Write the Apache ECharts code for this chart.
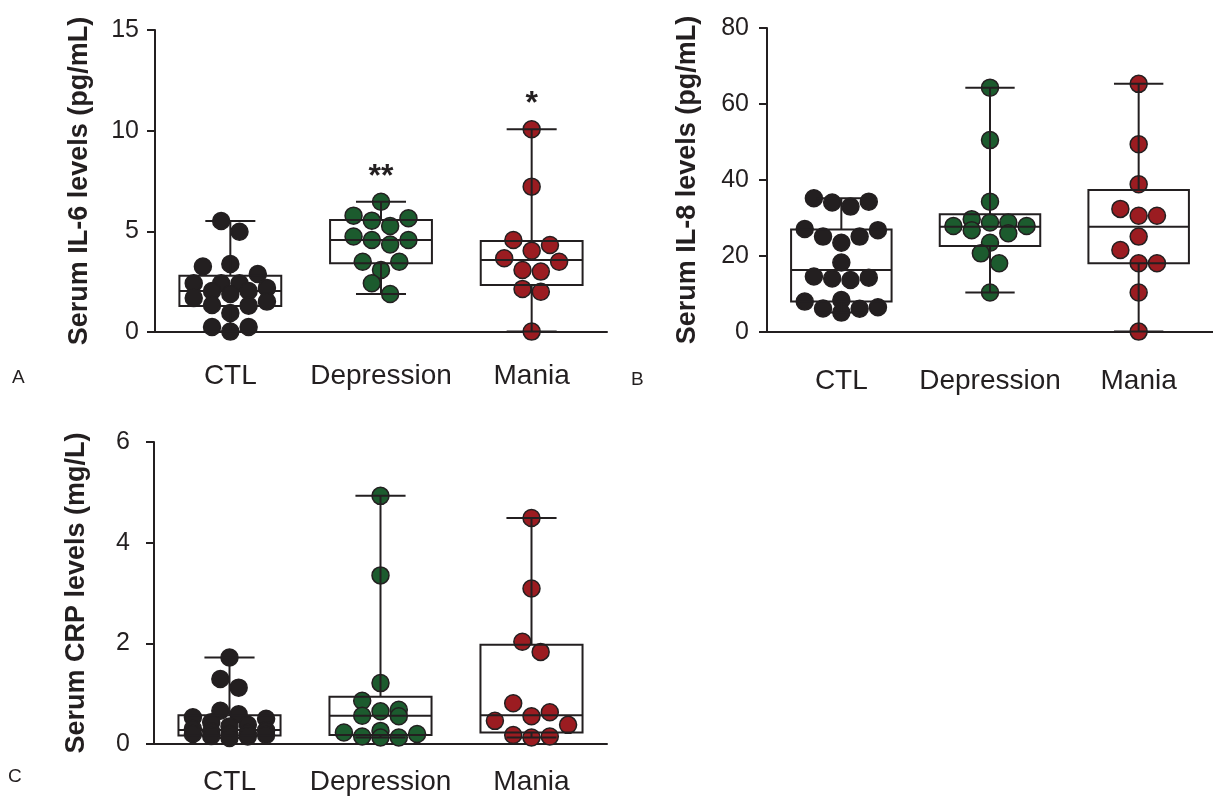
<!DOCTYPE html>
<html style="height: 100%">
<head>
    <meta charset="utf-8">
    <title>Serum IL-6 / IL-8 / CRP</title>
    <script type="text/javascript" src="https://cdn.jsdelivr.net/npm/echarts@6/dist/echarts.min.js"></script>
</head>
<body style="height: 100%; margin: 0; background: #fff">
    <div id="container" style="width: 1213px; height: 796px"></div>
    <script type="text/javascript">
        var groups = ['CTL', 'Depression', 'Mania'];
        var groupColors = ['#231f20', '#1c5b2e', '#9b1c21'];

        // IL-6 (pg/mL)
        var il6Ctl = [5.51, 4.98, 3.38, 3.25, 2.88, 2.42, 2.42, 2.42, 2.19, 2.04, 2.04, 1.89, 1.69, 1.51, 1.34, 1.31, 0.94, 0.25, 0.25, 0.02];
        var il6Dep = [6.47, 5.78, 5.65, 5.53, 5.27, 4.74, 4.57, 4.57, 4.35, 3.49, 3.49, 3.08, 2.42, 1.89];
        var il6Man = [10.07, 7.22, 4.57, 4.32, 4.04, 3.66, 3.49, 3.08, 3.0, 2.14, 2.0, 0.02];
        // [min, Q1, median, Q3, max]
        var il6Box = [[0.02, 1.29, 2.04, 2.80, 5.51], [1.89, 3.41, 4.57, 5.56, 6.47], [0.02, 2.33, 3.58, 4.52, 10.07]];
        var il6Sig = ['', '**', '*'];

        // IL-8 (pg/mL)
        var il8Ctl = [35.2, 34.3, 34.1, 33.0, 27.1, 26.8, 25.1, 25.1, 23.5, 18.3, 14.6, 14.3, 14.1, 13.7, 8.4, 8.0, 6.5, 6.2, 6.1, 5.1];
        var il8Dep = [64.3, 50.5, 34.3, 29.7, 28.8, 28.8, 27.9, 27.9, 26.8, 26.0, 23.5, 20.7, 18.1, 10.4];
        var il8Man = [65.3, 49.4, 38.9, 32.4, 30.6, 30.6, 25.1, 21.6, 18.1, 18.1, 10.4, 0.1];
        var il8Box = [[5.1, 8.0, 16.3, 27.0, 35.2], [10.4, 22.6, 27.7, 31.0, 64.3], [0.1, 18.1, 27.7, 37.4, 65.3]];

        // CRP (mg/L)
        var crpCtl = [1.72, 1.29, 1.12, 0.66, 0.59, 0.53, 0.50, 0.43, 0.38, 0.35, 0.30, 0.27, 0.25, 0.22, 0.20, 0.20, 0.18, 0.16, 0.15, 0.12];
        var crpDep = [4.93, 3.35, 1.21, 0.86, 0.68, 0.65, 0.56, 0.55, 0.26, 0.23, 0.20, 0.15, 0.13, 0.13];
        var crpMan = [4.49, 3.09, 2.03, 1.83, 0.81, 0.63, 0.55, 0.46, 0.38, 0.18, 0.15, 0.13];
        var crpBox = [[0.12, 0.17, 0.28, 0.57, 1.72], [0.13, 0.18, 0.56, 0.94, 4.93], [0.13, 0.23, 0.57, 1.97, 4.49]];

        var INK = '#231f20';
        var FONT = '"Liberation Sans", Arial, sans-serif';
        var DOT = 17;      // dot diameter
        var STEP = 18.3;   // horizontal spacing of dots in a row

        var panels = [
            { letter: 'A', name: 'Serum IL-6 levels (pg/mL)', max: 15, interval: 5, data: [il6Ctl, il6Dep, il6Man], box: il6Box, sig: il6Sig,
              grid: { left: 155, top: 30, width: 452, height: 302 }, labelMargin: 30, tickMargin: 16, nameGap: 62,
              letterPos: [12, 368] },
            { letter: 'B', name: 'Serum IL-8 levels (pg/mL)', max: 80, interval: 20, data: [il8Ctl, il8Dep, il8Man], box: il8Box, sig: [],
              grid: { left: 767, top: 28, width: 457, height: 304 }, labelMargin: 35, tickMargin: 18, nameGap: 66,
              letterPos: [631, 370] },
            { letter: 'C', name: 'Serum CRP levels (mg/L)', max: 6, interval: 2, data: [crpCtl, crpDep, crpMan], box: crpBox, sig: [],
              grid: { left: 154, top: 442, width: 453, height: 303 }, labelMargin: 24, tickMargin: 24, nameGap: 64,
              letterPos: [8, 767] }
        ];

        // simple row-based beeswarm: dots with close values share a row and are spread symmetrically
        function swarm(values, pxPerUnit) {
            var order = values.map(function (v, i) { return i; })
                .sort(function (a, b) { return values[a] - values[b]; });
            var offsets = new Array(values.length);
            var row = [];
            function flush() {
                var n = row.length;
                var slots = [];
                for (var k = 0; k < n; k++) slots.push(k - (n - 1) / 2);
                slots.sort(function (a, b) { return Math.abs(a) - Math.abs(b) || b - a; });
                row.forEach(function (id, k) { offsets[id] = slots[k] * STEP; });
                row = [];
            }
            order.forEach(function (id) {
                if (row.length && ((values[id] - values[row[0]]) * pxPerUnit > DOT || row.length === 5)) flush();
                row.push(id);
            });
            flush();
            return offsets;
        }

        function renderBox(sig) {
            return function (params, api) {
                var g = api.value(0);
                var pMin = api.coord([g, api.value(1)]);
                var pQ1 = api.coord([g, api.value(2)]);
                var pMed = api.coord([g, api.value(3)]);
                var pQ3 = api.coord([g, api.value(4)]);
                var pMax = api.coord([g, api.value(5)]);
                var band = api.size([1, 0])[0];
                var hw = band * 0.338, cw = band * 0.166;
                var x = pMed[0];
                var line = { stroke: INK, lineWidth: 2 };
                var children = [
                    { type: 'line', shape: { x1: x, y1: pQ3[1], x2: x, y2: pMax[1] }, style: line },
                    { type: 'line', shape: { x1: x, y1: pQ1[1], x2: x, y2: pMin[1] }, style: line },
                    { type: 'line', shape: { x1: x - cw, y1: pMax[1], x2: x + cw, y2: pMax[1] }, style: line },
                    { type: 'line', shape: { x1: x - cw, y1: pMin[1], x2: x + cw, y2: pMin[1] }, style: line },
                    { type: 'rect', shape: { x: x - hw, y: pQ3[1], width: 2 * hw, height: pQ1[1] - pQ3[1] },
                      style: { stroke: INK, lineWidth: 2, fill: 'none' } },
                    { type: 'line', shape: { x1: x - hw, y1: pMed[1], x2: x + hw, y2: pMed[1] }, style: line }
                ];
                var s = sig[params.dataIndex];
                if (s) {
                    children.push({ type: 'text', x: x, y: pMax[1] - 25,
                        style: { text: s, fill: INK, font: 'bold 32px ' + FONT, align: 'center', verticalAlign: 'middle' } });
                }
                return { type: 'group', children: children };
            };
        }

        var grids = [], xAxes = [], yAxes = [], series = [], graphics = [];

        panels.forEach(function (p, pi) {
            grids.push(p.grid);
            xAxes.push({
                gridIndex: pi, type: 'category', data: groups, boundaryGap: true,
                axisLine: { lineStyle: { color: INK, width: 2 } },
                axisTick: { alignWithLabel: true, length: 7, lineStyle: { color: INK, width: 2 } },
                axisLabel: { interval: 0, color: INK, fontSize: 28, fontFamily: FONT, margin: p.labelMargin },
                splitLine: { show: false }
            });
            yAxes.push({
                gridIndex: pi, type: 'value', min: 0, max: p.max, interval: p.interval,
                name: p.name, nameLocation: 'middle', nameGap: p.nameGap,
                nameTextStyle: { color: INK, fontSize: 27, fontWeight: 'bold', fontFamily: FONT },
                axisLine: { show: true, lineStyle: { color: INK, width: 2 } },
                axisTick: { show: true, length: 8, lineStyle: { color: INK, width: 2 } },
                axisLabel: { color: INK, fontSize: 25, fontFamily: FONT, margin: p.tickMargin },
                splitLine: { show: false }
            });

            var pxPerUnit = p.grid.height / p.max;
            var dots = [];
            p.data.forEach(function (vals, g) {
                var offs = swarm(vals, pxPerUnit);
                vals.forEach(function (v, i) {
                    dots.push({
                        value: [g, v],
                        symbolOffset: [offs[i], 0],
                        itemStyle: { color: groupColors[g] }
                    });
                });
            });
            series.push({
                type: 'scatter', xAxisIndex: pi, yAxisIndex: pi,
                symbol: 'circle', symbolSize: DOT,
                itemStyle: { borderColor: INK, borderWidth: 1.5, opacity: 1 },
                emphasis: { disabled: true },
                data: dots
            });
            series.push({
                type: 'custom', xAxisIndex: pi, yAxisIndex: pi,
                renderItem: renderBox(p.sig),
                data: p.box.map(function (b, g) { return [g].concat(b); }),
                z: 3
            });

            graphics.push({
                type: 'text', left: p.letterPos[0], top: p.letterPos[1],
                style: { text: p.letter, fill: INK, font: '19px ' + FONT }
            });
        });

        var myChart = echarts.init(document.getElementById('container'));
        myChart.setOption({
            backgroundColor: '#fff',
            animation: false,
            grid: grids,
            xAxis: xAxes,
            yAxis: yAxes,
            series: series,
            graphic: graphics
        });
    </script>
</body>
</html>
